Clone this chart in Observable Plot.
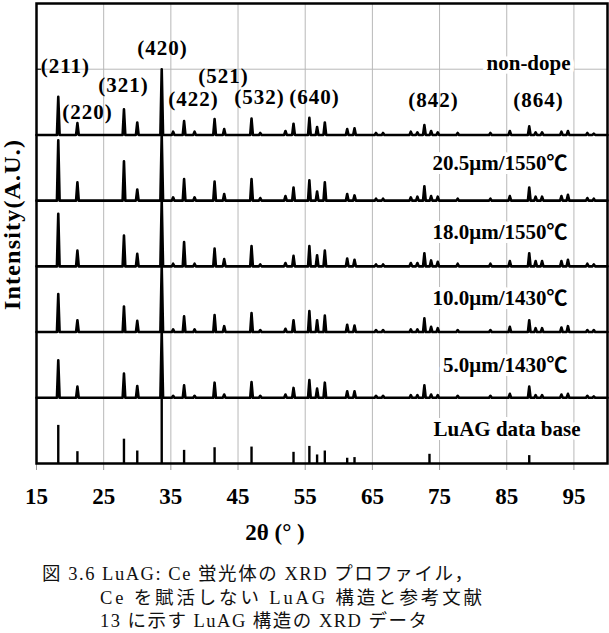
<!DOCTYPE html>
<html>
<head>
<meta charset="utf-8">
<script src="https://cdn.jsdelivr.net/npm/d3@7"></script>
<script src="https://cdn.jsdelivr.net/npm/@observablehq/plot@0.6"></script>
<style>
  body { margin: 0; background: #fff; }
  #wrap { position: relative; width: 609px; height: 633px; overflow: hidden; background: #fff; }
  #chart { position: absolute; left: 0; top: 0; }
  #overlay { position: absolute; left: 0; top: 0; }
  .hkl text { letter-spacing: 1px; }
</style>
</head>
<body>
<div id="wrap">
  <div id="chart"></div>
  <svg id="overlay" width="609" height="633" xmlns="http://www.w3.org/2000/svg">
    <text transform="translate(12,225) rotate(-90)" text-anchor="middle" dominant-baseline="central"
          font-family="'Liberation Serif', serif" font-weight="bold" font-size="24"
          textLength="170" lengthAdjust="spacing">Intensity(A.U.)</text>
    <text x="275" y="532" text-anchor="middle" dominant-baseline="central"
          font-family="'Liberation Serif', serif" font-weight="bold" font-size="23">2θ (° )</text>
    <g font-family="'Liberation Serif', 'Noto Sans CJK JP', serif" font-size="18.5" fill="#111">
      <text x="42" y="580" textLength="431" lengthAdjust="spacing">図 3.6 LuAG: Ce 蛍光体の XRD プロファイル，</text>
      <text x="100" y="604" textLength="382" lengthAdjust="spacing">Ce を賦活しない LuAG 構造と参考文献</text>
      <text x="100" y="627" textLength="327" lengthAdjust="spacing">13 に示す LuAG 構造の XRD データ</text>
    </g>
  </svg>
</div>
<script>
// 2θ tick labels and horizontal grid levels
const xTicks = [15, 25, 35, 45, 55, 65, 75, 85, 95];
const yGrid = [1, 2, 3, 4, 5, 6];

// Reflection positions (2θ, degrees) shared by the measured profiles
const angles = [18.24, 21.09, 28.02, 30.00, 33.64, 35.34, 36.97, 38.53, 41.51, 42.94,
  47.01, 48.31, 52.06, 53.26, 55.62, 56.77, 57.92, 61.25, 62.34, 65.54,
  66.59, 70.72, 71.70, 72.74, 73.74, 74.73, 77.70, 82.57, 85.46, 88.35,
  89.30, 90.26, 93.14, 94.11, 97.00, 97.96];

// Relative peak intensities of each measured sample
const nonDope = [0.58, 0.18, 0.39, 0.19, 1.0, 0.05, 0.21, 0.05, 0.24, 0.09,
  0.25, 0.03, 0.06, 0.17, 0.26, 0.12, 0.19, 0.09, 0.10, 0.03,
  0.03, 0.05, 0.04, 0.15, 0.06, 0.04, 0.03, 0.03, 0.06, 0.13,
  0.04, 0.04, 0.05, 0.06, 0.03, 0.02];
const s205 = [0.92, 0.28, 0.60, 0.17, 1.0, 0.05, 0.33, 0.05, 0.29, 0.10,
  0.33, 0.04, 0.07, 0.20, 0.31, 0.14, 0.28, 0.10, 0.08, 0.03,
  0.03, 0.05, 0.06, 0.22, 0.07, 0.06, 0.03, 0.03, 0.07, 0.20,
  0.06, 0.06, 0.07, 0.09, 0.04, 0.03];
const s180 = [0.80, 0.24, 0.47, 0.19, 1.0, 0.04, 0.37, 0.04, 0.27, 0.11,
  0.31, 0.03, 0.05, 0.16, 0.31, 0.17, 0.24, 0.12, 0.10, 0.03,
  0.03, 0.05, 0.05, 0.20, 0.09, 0.07, 0.04, 0.04, 0.08, 0.20,
  0.08, 0.08, 0.08, 0.10, 0.04, 0.03];
const s100 = [0.58, 0.18, 0.39, 0.17, 1.0, 0.04, 0.24, 0.04, 0.26, 0.09,
  0.29, 0.03, 0.05, 0.18, 0.32, 0.18, 0.25, 0.11, 0.10, 0.03,
  0.03, 0.04, 0.04, 0.21, 0.08, 0.06, 0.03, 0.03, 0.08, 0.18,
  0.06, 0.06, 0.07, 0.09, 0.03, 0.03];
const s050 = [0.57, 0.17, 0.37, 0.18, 1.0, 0.03, 0.19, 0.03, 0.23, 0.05,
  0.24, 0.03, 0.05, 0.15, 0.27, 0.14, 0.23, 0.10, 0.10, 0.03,
  0.03, 0.04, 0.04, 0.19, 0.05, 0.04, 0.03, 0.03, 0.06, 0.17,
  0.04, 0.04, 0.05, 0.06, 0.03, 0.02];

// Sample names, their profiles and vertical offsets
const sampleNames = ["non-dope", "20.5μm/1550℃", "18.0μm/1550℃", "10.0μm/1430℃", "5.0μm/1430℃"];
const sampleHeights = [nonDope, s205, s180, s100, s050];
const sampleOffsets = [5, 4, 3, 2, 1];

// Reference stick pattern (LuAG data base)
const dbAngles = [18.24, 21.09, 28.02, 30.00, 33.64, 36.97, 41.51, 47.01, 53.26, 55.62,
  56.77, 57.92, 61.25, 62.34, 73.50, 88.35];
const dbHeights = [0.58, 0.18, 0.37, 0.19, 1.0, 0.20, 0.24, 0.25, 0.17, 0.26,
  0.13, 0.19, 0.08, 0.09, 0.14, 0.12];

// Miller index annotations
const hklText = ["(211)", "(220)", "(321)", "(420)", "(422)", "(521)", "(532)", "(640)", "(842)", "(864)"];
const hklX = [19.3, 22.6, 27.95, 33.76, 38.37, 42.84, 48.2, 56.38, 74.1, 89.73];
const hklY = [6.04, 5.34, 5.75, 6.32, 5.54, 5.89, 5.58, 5.58, 5.52, 5.52];

// Panel labels (right-aligned)
const panelText = ["non-dope", "20.5μm/1550℃", "18.0μm/1550℃", "10.0μm/1430℃", "5.0μm/1430℃", "LuAG data base"];
const panelX = [94.5, 94.05, 94.05, 94.05, 94.05, 95.98];
const panelY = [6.09, 4.57, 3.52, 2.51, 1.49, 0.52];

// Each reflection is drawn as a narrow triangular peak on the sample baseline
const halfWidth = 0.2;
const rows = [];
sampleNames.forEach((name, i) => {
  const off = sampleOffsets[i];
  rows.push({sample: name, angle: 15, y: off});
  angles.forEach((a, j) => {
    rows.push({sample: name, angle: a - halfWidth, y: off});
    rows.push({sample: name, angle: a, y: off + sampleHeights[i][j]});
    rows.push({sample: name, angle: a + halfWidth, y: off});
  });
  rows.push({sample: name, angle: 100, y: off});
});
const db = dbAngles.map((a, i) => ({angle: a, h: dbHeights[i]}));
const hkl = hklText.map((t, i) => ({t, x: hklX[i], y: hklY[i]}));
const panels = panelText.map((t, i) => ({t, x: panelX[i], y: panelY[i]}));

const serif = "'Liberation Serif', 'Times New Roman', 'Noto Sans CJK JP', serif";

const chart = Plot.plot({
  width: 609,
  height: 545,
  marginLeft: 36,
  marginRight: 2,
  marginTop: 3,
  marginBottom: 82,
  x: {domain: [15, 100], label: null},
  y: {domain: [0, 7], label: null},
  style: {fontFamily: serif, background: "white", color: "black"},
  marks: [
    Plot.gridX(xTicks, {stroke: "#b8b8b8", strokeOpacity: 1}),
    Plot.gridY(yGrid, {stroke: "#b8b8b8", strokeOpacity: 1}),
    Plot.axisX(xTicks, {tickSize: 7, stroke: "#9a9a9a", fill: "black", tickPadding: 17,
      fontSize: 23, fontWeight: "bold", tickFormat: d => String(d)}),
    Plot.axisY(yGrid, {tickSize: -5, stroke: "black", tickFormat: () => ""}),
    Plot.line(rows, {x: "angle", y: "y", z: "sample", stroke: "black", strokeWidth: 2.6,
      strokeLinejoin: "round"}),
    Plot.ruleX(db, {x: "angle", y1: 0, y2: "h", stroke: "black", strokeWidth: 2.4}),
    Plot.text(hkl, {x: "x", y: "y", text: "t", fontSize: 21, fontWeight: "bold",
      fill: "black", className: "hkl"}),
    Plot.text(panels, {x: "x", y: "y", text: "t", fontSize: 21, fontWeight: "bold",
      textAnchor: "end", fill: "black", stroke: "white", strokeWidth: 8}),
    Plot.frame({stroke: "black", strokeWidth: 2.5})
  ]
});
document.getElementById("chart").appendChild(chart);
</script>
</body>
</html>
